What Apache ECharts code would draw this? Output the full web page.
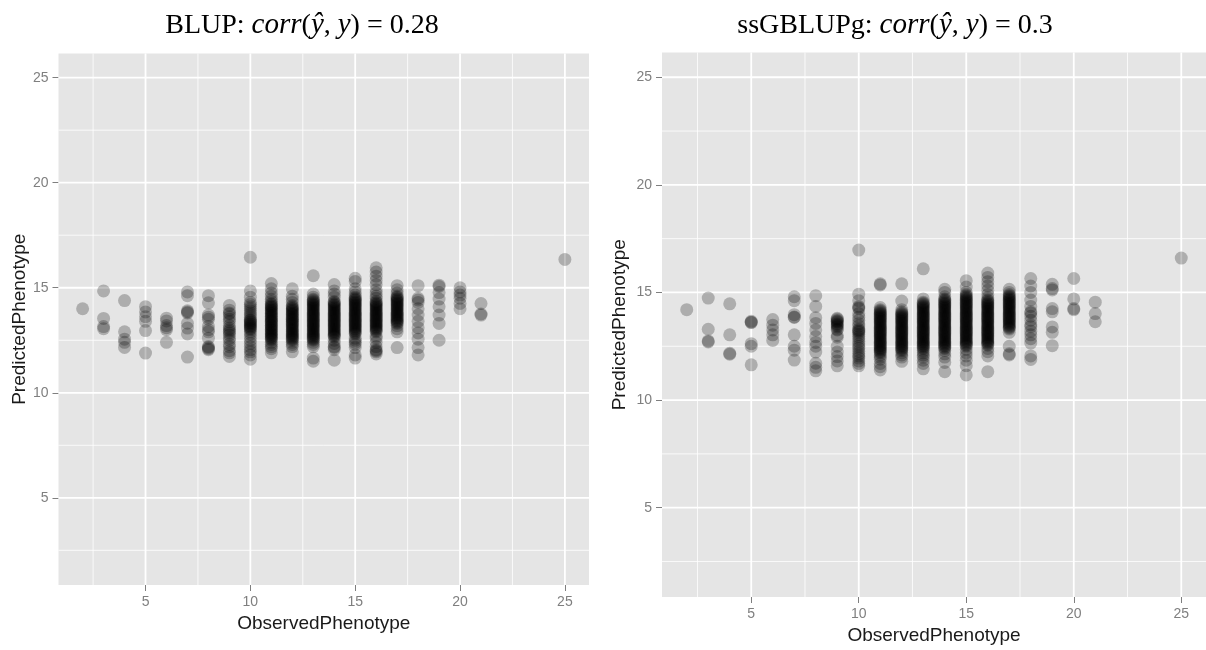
<!DOCTYPE html>
<html>
<head>
<meta charset="utf-8">
<script src="https://cdn.jsdelivr.net/npm/echarts@6/dist/echarts.min.js"></script>
<style>
html,body{margin:0;padding:0;background:#fff;}
#chart{width:1206px;height:650px;}
</style>
</head>
<body>
<div id="chart"></div>
<script>
// ---- data ----
const observedValues = [2,3,4,5,6,7,8,9,10,11,12,13,14,15,16,17,18,19,20,21,25];

const blupPredicted = [
  [14.0],
  [14.85,13.54,13.15,13.05],
  [14.39,12.9,12.55,12.4,12.16],
  [14.1,13.85,13.62,13.4,12.96,11.89],
  [13.55,13.42,13.2,13.1,13.0,12.4],
  [14.8,14.62,13.9,13.85,13.8,13.31,13.08,12.8,11.7],
  [14.62,14.28,13.7,13.6,13.5,13.16,13.0,12.9,12.6,12.2,12.15,12.1,12.05],
  [14.16,13.93,13.8,13.75,13.62,13.5,13.39,13.2,13.08,13.0,12.93,12.85,12.75,12.6,12.5,12.3,12.19,12.0,11.9,11.73],
  [16.45,14.85,14.55,14.3,14.2,14.1,14.0,13.9,13.8,13.7,13.6,13.5,13.45,13.4,13.35,13.3,13.25,13.2,13.15,13.1,13.05,13.0,12.9,12.8,12.65,12.5,12.35,12.2,12.05,11.95,11.8,11.6],
  [15.2,14.95,14.75,14.6,14.45,14.35,14.25,14.2,14.14,14.1,14.06,14.0,13.94,13.91,13.85,13.8,13.76,13.7,13.64,13.61,13.55,13.5,13.44,13.4,13.36,13.3,13.23,13.2,13.16,13.1,13.04,13.01,12.96,12.9,12.84,12.81,12.76,12.7,12.67,12.61,12.56,12.52,12.4,12.3,12.2,12.1,11.9],
  [14.95,14.6,14.45,14.3,14.15,14.1,14.04,14.0,13.95,13.9,13.86,13.8,13.75,13.71,13.65,13.6,13.54,13.5,13.46,13.4,13.35,13.3,13.26,13.2,13.15,13.1,13.04,13.0,12.95,12.9,12.84,12.8,12.75,12.7,12.65,12.6,12.55,12.5,12.4,12.3,12.2,11.95],
  [15.57,14.7,14.55,14.45,14.4,14.35,14.3,14.25,14.2,14.15,14.1,14.05,14.0,13.95,13.9,13.85,13.8,13.75,13.7,13.65,13.6,13.55,13.5,13.45,13.4,13.35,13.3,13.25,13.2,13.15,13.1,13.05,13.0,12.95,12.9,12.85,12.8,12.75,12.7,12.65,12.6,12.55,12.5,12.4,12.3,12.2,11.65,11.5],
  [15.15,14.85,14.7,14.55,14.35,14.3,14.25,14.2,14.15,14.1,14.05,14.0,13.95,13.9,13.85,13.8,13.75,13.7,13.65,13.6,13.55,13.5,13.45,13.4,13.35,13.3,13.25,13.2,13.15,13.1,13.05,13.0,12.95,12.9,12.85,12.8,12.75,12.7,12.65,12.5,12.35,12.2,12.15,12.05,11.55],
  [15.45,15.3,14.95,14.8,14.65,14.55,14.5,14.45,14.4,14.35,14.3,14.25,14.2,14.15,14.1,14.05,14.0,13.95,13.9,13.85,13.8,13.75,13.7,13.65,13.6,13.55,13.5,13.45,13.4,13.35,13.3,13.25,13.2,13.15,13.1,13.05,13.0,12.95,12.9,12.85,12.8,12.6,12.5,12.4,12.3,12.15,11.8,11.65],
  [15.95,15.75,15.55,15.35,15.15,14.9,14.75,14.6,14.5,14.35,14.3,14.25,14.2,14.15,14.1,14.05,14.0,13.95,13.9,13.85,13.8,13.75,13.7,13.65,13.6,13.55,13.5,13.45,13.4,13.35,13.3,13.25,13.2,13.15,13.1,13.05,13.0,12.95,12.9,12.7,12.6,12.4,12.2,12.05,12.0,11.95,11.85],
  [15.1,14.9,14.75,14.6,14.55,14.5,14.45,14.4,14.35,14.3,14.25,14.2,14.15,14.1,14.05,14.0,13.95,13.9,13.85,13.8,13.75,13.7,13.65,13.6,13.55,13.5,13.45,13.4,13.35,13.3,13.2,13.05,12.9,12.15],
  [15.1,14.5,14.42,14.3,14.0,13.7,13.4,13.1,12.85,12.55,12.15,11.8],
  [15.12,15.06,14.77,14.46,14.1,13.7,13.3,12.5],
  [15.0,14.8,14.65,14.5,14.25,14.0],
  [14.25,13.75,13.7],
  [16.35]
];

const ssgblupPredicted = [
  [14.2],
  [14.74,13.29,12.75,12.7],
  [14.47,13.03,12.17,12.13],
  [13.66,13.62,13.6,12.62,12.5,11.64],
  [13.74,13.48,13.26,13.03,12.77],
  [14.8,14.62,13.97,13.86,13.84,13.03,12.5,12.32,11.86],
  [14.85,14.35,13.83,13.56,13.26,12.95,12.68,12.5,12.23,11.71,11.52,11.36],
  [13.8,13.76,13.7,13.66,13.62,13.55,13.5,13.45,13.4,13.3,13.26,13.0,12.92,12.5,12.23,12.02,11.82,11.59],
  [16.97,14.92,14.62,14.35,14.3,14.25,14.02,13.85,13.71,13.55,13.44,13.3,13.25,13.2,13.15,13.05,12.95,12.85,12.73,12.6,12.5,12.4,12.27,12.15,12.05,11.95,11.82,11.7,11.59],
  [15.4,15.35,14.3,14.2,14.15,14.1,14.05,14.0,13.95,13.9,13.85,13.8,13.75,13.7,13.65,13.6,13.55,13.5,13.45,13.4,13.35,13.3,13.25,13.2,13.15,13.1,13.05,13.0,12.95,12.9,12.85,12.8,12.75,12.7,12.65,12.6,12.55,12.5,12.45,12.4,12.35,12.3,12.25,12.2,12.1,12.0,11.9,11.7,11.55,11.4],
  [15.4,14.6,14.2,14.1,14.05,14.0,13.95,13.9,13.85,13.8,13.75,13.7,13.65,13.6,13.55,13.5,13.45,13.4,13.35,13.3,13.25,13.2,13.15,13.1,13.05,13.0,12.95,12.9,12.85,12.8,12.75,12.7,12.65,12.6,12.55,12.5,12.45,12.4,12.35,12.3,12.2,12.1,12.0,11.8],
  [16.1,14.7,14.55,14.5,14.45,14.4,14.35,14.3,14.25,14.2,14.15,14.1,14.05,14.0,13.95,13.9,13.85,13.8,13.75,13.7,13.65,13.6,13.55,13.5,13.45,13.4,13.35,13.3,13.25,13.2,13.15,13.1,13.05,13.0,12.95,12.9,12.85,12.8,12.75,12.7,12.65,12.6,12.55,12.5,12.45,12.4,12.3,12.2,12.1,12.0,11.85,11.7,11.45],
  [15.15,15.0,14.8,14.7,14.65,14.6,14.55,14.5,14.45,14.4,14.35,14.3,14.25,14.2,14.15,14.1,14.05,14.0,13.95,13.9,13.85,13.8,13.75,13.7,13.65,13.6,13.55,13.5,13.45,13.4,13.35,13.3,13.25,13.2,13.15,13.1,13.05,13.0,12.95,12.9,12.85,12.8,12.75,12.7,12.65,12.6,12.55,12.5,12.45,12.4,12.3,12.15,12.0,11.75,11.32],
  [15.55,15.25,15.0,14.9,14.85,14.8,14.75,14.7,14.65,14.6,14.55,14.5,14.45,14.4,14.35,14.3,14.25,14.2,14.15,14.1,14.05,14.0,13.95,13.9,13.85,13.8,13.75,13.7,13.65,13.6,13.55,13.5,13.45,13.4,13.35,13.3,13.25,13.2,13.15,13.1,13.05,13.0,12.95,12.9,12.85,12.8,12.75,12.7,12.65,12.6,12.55,12.5,12.35,12.2,12.05,11.85,11.6,11.17],
  [15.9,15.7,15.5,15.3,15.1,14.9,14.75,14.65,14.6,14.55,14.5,14.45,14.4,14.35,14.3,14.25,14.2,14.15,14.1,14.05,14.0,13.95,13.9,13.85,13.8,13.75,13.7,13.65,13.6,13.55,13.5,13.45,13.4,13.35,13.3,13.25,13.2,13.15,13.1,13.05,13.0,12.95,12.9,12.85,12.8,12.75,12.7,12.65,12.6,12.55,12.4,12.25,12.05,11.32],
  [15.15,15.0,14.9,14.85,14.8,14.75,14.7,14.65,14.6,14.55,14.5,14.45,14.4,14.35,14.3,14.25,14.2,14.15,14.1,14.05,14.0,13.95,13.9,13.85,13.8,13.75,13.7,13.65,13.6,13.55,13.5,13.45,13.4,13.35,13.3,13.15,12.5,12.15,12.1],
  [15.65,15.3,15.0,14.65,14.35,14.1,14.05,13.9,13.71,13.5,13.41,13.2,13.03,12.85,12.65,12.05,11.89],
  [15.38,15.18,15.12,14.25,14.1,13.4,13.15,12.53],
  [15.65,14.7,14.25,14.2],
  [14.55,14.02,13.64],
  [16.6]
];

const majorTicks = [5,10,15,20,25];
const minorTicks = [2.5,7.5,12.5,17.5,22.5];
const axisRange = [0.85,26.15];

const titles = [
  '{n|BLUP: }{i|corr}{n|(}{i|ŷ}{n|, }{i|y}{n|) = 0.28}',
  '{n|ssGBLUPg: }{i|corr}{n|(}{i|ŷ}{n|, }{i|y}{n|) = 0.3}'
];
const xName = 'ObservedPhenotype';
const yName = 'PredictedPhenotype';

// ---- build ----
function points(pred){
  const out = [];
  observedValues.forEach((x,i)=>pred[i].forEach(y=>out.push([x,y])));
  return out;
}
function gridLines(idx, values, orient, width){
  return {
    type:'custom', xAxisIndex:idx, yAxisIndex:idx, silent:true, z:1,
    data: values.map(v=>[v,v]),
    renderItem: function(params, api){
      const cs = params.coordSys;
      const v = api.value(0);
      if(orient==='v'){
        const p = api.coord([v, 13]);
        return {type:'line', shape:{x1:p[0],y1:cs.y,x2:p[0],y2:cs.y+cs.height}, style:{stroke:'#ffffff', lineWidth:width}};
      } else {
        const p = api.coord([13, v]);
        return {type:'line', shape:{x1:cs.x,y1:p[1],x2:cs.x+cs.width,y2:p[1]}, style:{stroke:'#ffffff', lineWidth:width}};
      }
    }
  };
}
const labelStyle = {color:'#7f7f7f', fontFamily:'Liberation Sans, Arial, sans-serif', fontSize:14};
function xAxis(idx, gap){
  return {type:'value', gridIndex:idx, min:axisRange[0], max:axisRange[1],
    name:xName, nameLocation:'middle', nameGap:gap,
    nameTextStyle:{color:'#1a1a1a', fontFamily:'Liberation Sans, Arial, sans-serif', fontSize:19},
    axisLine:{show:false}, splitLine:{show:false},
    axisTick:{show:true, length:6, customValues:majorTicks, lineStyle:{color:'#7f7f7f', width:1}},
    axisLabel:Object.assign({customValues:majorTicks, margin:10}, labelStyle)};
}
function yAxis(idx, gap){
  return {type:'value', gridIndex:idx, min:axisRange[0], max:axisRange[1],
    name:yName, nameLocation:'middle', nameGap:gap, nameRotate:90,
    nameTextStyle:{color:'#1a1a1a', fontFamily:'Liberation Sans, Arial, sans-serif', fontSize:19},
    axisLine:{show:false}, splitLine:{show:false},
    axisTick:{show:true, length:6, customValues:majorTicks, lineStyle:{color:'#7f7f7f', width:1}},
    axisLabel:Object.assign({customValues:majorTicks, margin:10}, labelStyle)};
}
const titleRich = {
  n:{fontFamily:'Liberation Serif, Times New Roman, serif', fontWeight:'normal', fontSize:28, color:'#000'},
  i:{fontFamily:'Liberation Serif, Times New Roman, serif', fontWeight:'normal', fontStyle:'italic', fontSize:29, color:'#000'}
};
const scatterStyle = {color:'rgba(0,0,0,0.3)'};

const option = {
  animation:false,
  backgroundColor:'#ffffff',
  title:[
    {text:titles[0], left:297, top:6, textAlign:'center', textStyle:{fontWeight:'normal', rich:titleRich}},
    {text:titles[1], left:890, top:6, textAlign:'center', textStyle:{fontWeight:'normal', rich:titleRich}}
  ],
  grid:[
    {left:58.5, top:53.5, width:530.5, height:531.5, show:true, backgroundColor:'#e5e5e5', borderWidth:0},
    {left:662, top:52.5, width:544, height:545, show:true, backgroundColor:'#e5e5e5', borderWidth:0}
  ],
  xAxis:[xAxis(0,21), xAxis(1,29)],
  yAxis:[yAxis(0,29), yAxis(1,33)],
  series:[
    gridLines(0, minorTicks, 'v', 0.8), gridLines(0, minorTicks, 'h', 0.8),
    gridLines(0, majorTicks, 'v', 1.8), gridLines(0, majorTicks, 'h', 1.8),
    gridLines(1, minorTicks, 'v', 0.8), gridLines(1, minorTicks, 'h', 0.8),
    gridLines(1, majorTicks, 'v', 1.8), gridLines(1, majorTicks, 'h', 1.8),
    {type:'scatter', xAxisIndex:0, yAxisIndex:0, z:3, symbolSize:13, itemStyle:scatterStyle, data:points(blupPredicted)},
    {type:'scatter', xAxisIndex:1, yAxisIndex:1, z:3, symbolSize:13, itemStyle:scatterStyle, data:points(ssgblupPredicted)}
  ]
};
const chart = echarts.init(document.getElementById('chart'), null, {renderer:'canvas'});
chart.setOption(option);
</script>
</body>
</html>
